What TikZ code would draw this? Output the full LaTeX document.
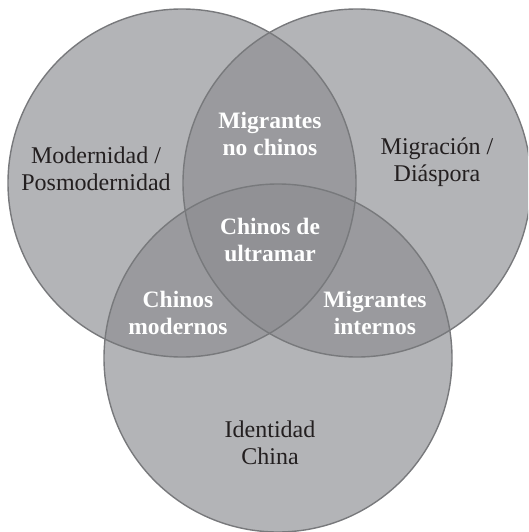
\documentclass[tikz,border=0pt]{standalone}
\usepackage{fontspec}
\setmainfont{Liberation Serif}
\definecolor{circfill}{RGB}{140,141,145}
\definecolor{circline}{RGB}{120,121,124}
\definecolor{darktext}{RGB}{35,31,32}
\tikzset{
  vennfill/.style={fill=circfill, fill opacity=0.66, draw=none},
  vennline/.style={draw=circline, line width=1.4pt},
  outerlabel/.style={align=center, text=darktext, font=\fontsize{24}{27}\selectfont, inner sep=0pt},
  innerlabel/.style={align=center, text=white, font=\bfseries\fontsize{23.5}{26.5}\selectfont, inner sep=0pt}
}
\begin{document}
\begin{tikzpicture}[x=1pt,y=-1pt]
\useasboundingbox (0,0) rectangle (528,532);
\coordinate (cL) at (182,183);
\coordinate (cR) at (357,183);
\coordinate (cB) at (278,358);
\begin{scope}
\clip (0,0) rectangle (528,532);
\fill[vennfill] (cL) circle[radius=174];
\fill[vennfill] (cR) circle[radius=174];
\fill[vennfill] (cB) circle[radius=174];
\draw[vennline] (cL) circle[radius=174];
\draw[vennline] (cR) circle[radius=174];
\draw[vennline] (cB) circle[radius=174];
\end{scope}
\node[outerlabel] (mod) at (96,169) {Modernidad /\\Posmodernidad};
\node[outerlabel] (mig) at (437,162) {Migración /\\Diáspora};
\node[outerlabel] (ide) at (270,443) {Identidad\\China};
\node[innerlabel] (mnc) at (270,134) {Migrantes\\no chinos};
\node[innerlabel] (cdu) at (270,240) {Chinos de\\ultramar};
\node[innerlabel] (cmo) at (178,313) {Chinos\\modernos};
\node[innerlabel] (min) at (375,313) {Migrantes\\internos};
\end{tikzpicture}
\end{document}
